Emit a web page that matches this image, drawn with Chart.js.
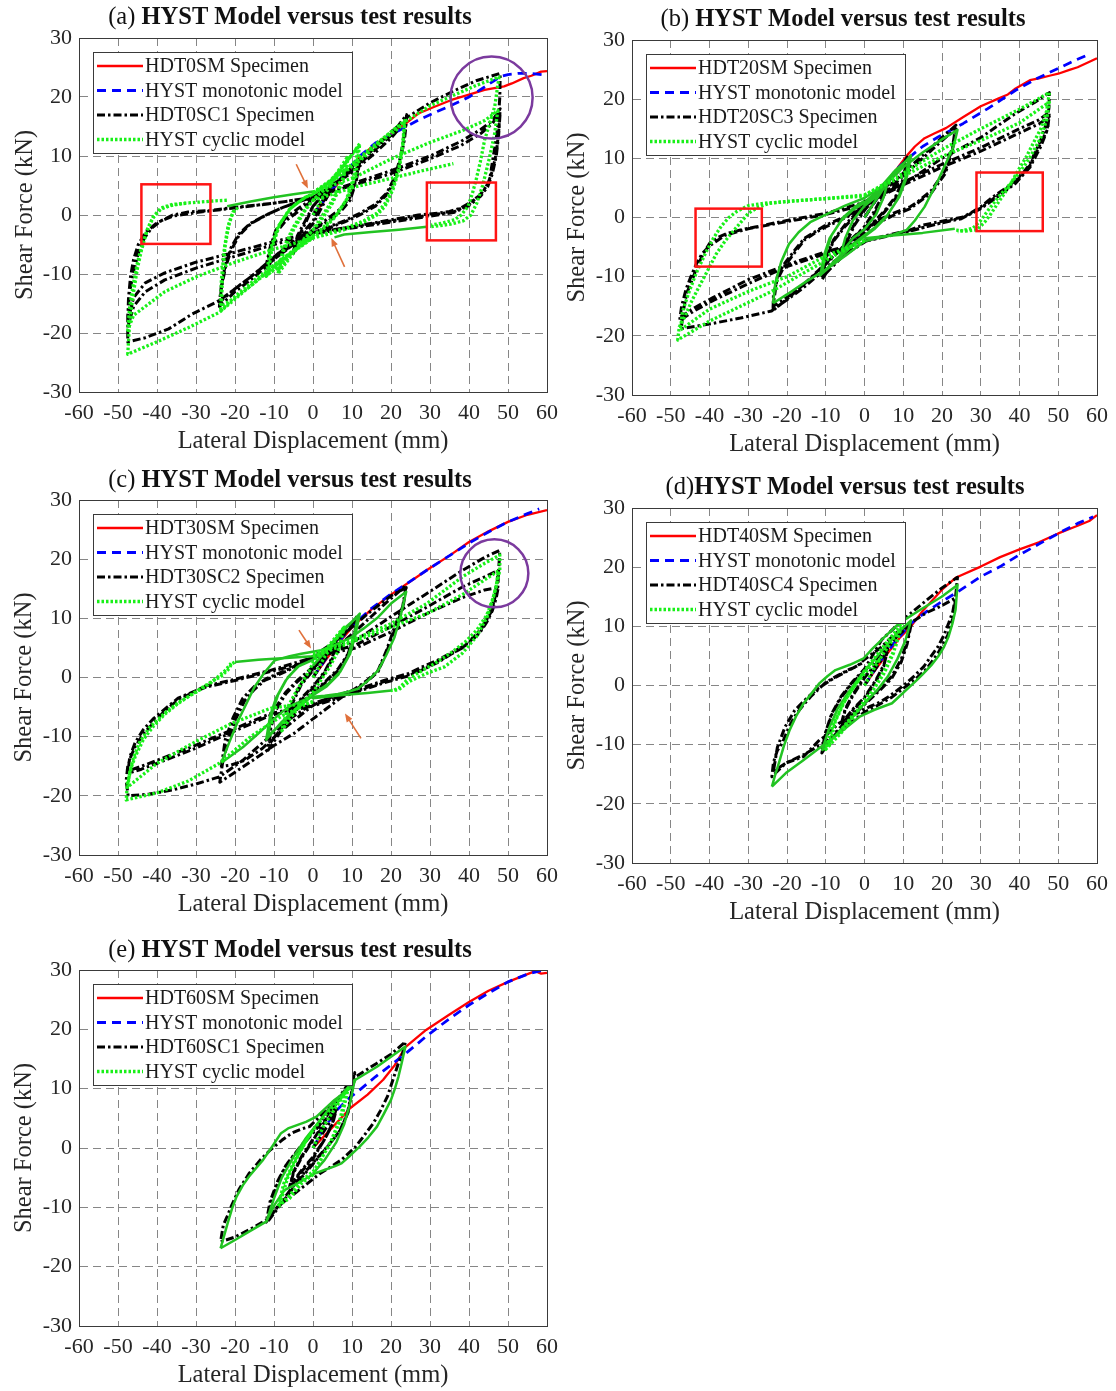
<!DOCTYPE html>
<html>
<head>
<meta charset="utf-8">
<script src="https://cdn.jsdelivr.net/npm/chart.js@4.4.1/dist/chart.umd.min.js"></script>
<style>
  body { margin: 0; background: #fff; }
  #page { position: relative; width: 1116px; height: 1391px; overflow: hidden; background: #fff; }
  #page canvas { position: absolute; }
</style>
</head>
<body>
<div id="page"></div>
<script>
// ---- axis ticks and labels ----
const xTicks = [-60, -50, -40, -30, -20, -10, 0, 10, 20, 30, 40, 50, 60];
const yTicks = [-30, -20, -10, 0, 10, 20, 30];
const panelLetters = ['(a) ', '(b) ', '(c) ', '(d)', '(e) '];
const panelTitle = 'HYST Model versus test results';
const monoLabels = ['HDT0SM Specimen', 'HDT20SM Specimen', 'HDT30SM Specimen', 'HDT40SM Specimen', 'HDT60SM Specimen'];
const cycLabels = ['HDT0SC1 Specimen', 'HDT20SC3 Specimen', 'HDT30SC2 Specimen', 'HDT40SC4 Specimen', 'HDT60SC1 Specimen'];
const modelLabels = ['HYST monotonic model', 'HYST cyclic model'];

// ---- (a) HDT0 ----  points are [displacement mm, force kN]
const aRed = [[0,0],[3,2.5],[6,5],[9,7.5],[12,9.8],[16,12],[20,13.8],[24,15.6],[27,17.2],[31,18.3],[35.5,19.5],[40,20.4],[44,21.2],[49,21.8],[51,22.3],[54,23.2],[56,23.6],[58.5,24.3],[60,24.4]];
const aBlue = [[0,0],[4,3.5],[8,7],[12,10],[16,12.2],[20,13.6],[24,15],[27,16.1],[31,17.3],[35.5,18.6],[40,20],[44,21.7],[46.5,22.8],[48.3,23.5],[50,23.8],[52.6,24],[56,24],[60,23.7]];
const aBlack = [[0,0],[2,2],[4,4],[5,5.5],[4,3.5],[2,1],[0,-1.5],[-2,-3],[-4,-4.5],[-5,-6],[-4,-4],[-2,-1.5],[0,1.5],[2,3],[4,4.5],[5,6],[4,4],[2,1.5],[0,-1],[-2,-2.5],[-4,-4.5],[-5,-6.5],
  [-4,-3.5],[-2,-1],[0,1.5],[3,3.5],[6,5.5],[9,7.5],[12,9.5],[11,6],[9.5,3],[7,1],[4,-0.5],[0,-2.5],[-4,-4],[-8,-6],[-12,-9],[-11,-6],[-9.5,-3],[-7,-1],[-4,0.5],[0,2.5],[4,4.5],[8,6.5],[12,9],[11,5.5],[9.5,2.5],[7,0.5],[4,-1],[0,-2.5],[-4,-4.5],[-8,-6.5],[-12,-8.5],[-11,-5.5],[-9.5,-2.5],[-7,-0.5],[-4,1],[0,2.8],
  [5,5],[10,7.5],[15,10.5],[20,13.5],[24,17],[23.5,14],[22.5,10],[21,6.5],[19,3.8],[16,1.8],[12,0.3],[8,-1],[4,-2],[0,-3],[-5,-5],[-10,-7.5],[-15,-10.5],[-20,-13],[-24,-15.5],[-23.5,-12.5],[-22.5,-9],[-21,-6],[-19,-3.5],[-16,-1.5],[-12,0],[-8,1.2],[-4,2.2],[0,3],[5,5],[10,7.2],[15,10],[20,13],[24,16.2],[23.5,13],[22.5,9.5],[21,6],[19,3.5],[16,1.5],[12,0],[8,-1.2],[4,-2.2],[0,-3],[-5,-5],[-10,-7.2],[-15,-10],[-20,-12.5],[-24,-14.8],[-23.5,-12],[-22.5,-8.5],[-21,-5.5],[-19,-3.2],[-16,-1.4],[-12,0],[-8,1.2],[-4,2.2],[0,3],
  [8,6.5],[16,11.5],[24,16.5],[30,19],[36,21],[42,22.8],[48,24],[47.9,20],[47.4,15],[46.9,12.7],[46,9],[45.3,6],[44,4.3],[42.3,3.1],[40,2],[38,1.2],[35,0.6],[32,0.3],[27,0],[20,-0.8],[10,-2],[0,-3],[-8,-6],[-16,-10.5],[-24,-14.5],[-31,-16.8],[-37,-19.3],[-43,-20.8],[-47.5,-21.5],
  [-47.5,-17],[-47,-13],[-46,-9.5],[-44.8,-6.5],[-43.3,-4],[-41.5,-2.3],[-39,-1],[-36,0],[-32,0.5],[-26,0.8],[-20,1.3],[-10,2],[0,3],
  [10,5.3],[20,7.5],[30,10],[38,12.5],[43,14.5],[46,16],[48,18],[47.6,14],[47,10.5],[46,7.5],[44.8,5.2],[43,3.5],[40,1.8],[36,0.5],[30,0],[20,-1],[10,-2],[0,-3],
  [-10,-4.5],[-20,-6.3],[-30,-8],[-38,-9.8],[-43,-11.5],[-46,-14],[-47.5,-18],[-47.3,-14],[-46.8,-10.5],[-46,-7.5],[-44.8,-5],[-43,-3],[-40,-1.3],[-36,-0.2],[-30,0.4],[-20,1.2],[-10,2],[0,3],
  [10,5],[20,7],[30,9.5],[38,11.8],[43,13.8],[46,15.5],[48,17.5],[47.6,13.5],[47,10],[46,7],[44.8,4.8],[43,3.2],[40,1.6],[36,0.4],[30,-0.2],[20,-1.2],[10,-2.2],[0,-3.2],
  [-10,-5],[-20,-7],[-30,-9],[-38,-11],[-43,-13],[-46,-15.5],[-47.5,-19]];
const aGreen = [
  [[0,0],[3,3.5],[6,6.5],[9,9.5],[7.5,5.5],[5,2],[2,-1],[0,-2.5],[-3,-4.5],[-6,-7],[-9,-9.5],[-7.5,-5.5],[-5,-2],[-2,1],[0,2.5],[3,4.5],[6,7],[9,10],[7.5,6],[5,2.5],[2,-0.5],[0,-2.5],[-3,-4.8],[-6,-7.3],[-9,-10],[-7.5,-6],[-5,-2.5],[-2,0.8],[0,2.5],
   [4,5],[8,8.5],[12,12.1],[11,7],[9,3],[6,0],[2,-2.5],[0,-3.5],[-4,-5.5],[-8,-8],[-12,-10.4],[-11,-6],[-9,-2],[-6,1],[-2,3],[0,3.5],[4,5.5],[8,8.5],[11.5,11.5],[10.5,6.5],[8.5,2.5],[5.5,-0.5],[2,-2.8],[0,-3.5],[-4,-5.5],[-8,-8.5],[-11.5,-10],[-10.5,-5.5],[-8.5,-1.5],[-5.5,1.3],[-2,3],[0,3.6],
   [6,6.5],[12,9.5],[18,13],[23.5,16],[23,12],[22,8],[20.5,4.8],[18.5,2],[16.4,0.3],[13,-1],[8,-2.3],[3,-3.2],[0,-3.8],[-5,-6],[-10,-8.5],[-15,-11],[-20,-13.8],[-23.7,-16.3],[-23.5,-11],[-22.7,-5.5],[-21.8,-2],[-21,-0.3],[-20,1]],
  [[0,3.8],[6,6.2],[12,9.2],[18,12.7],[23.5,15.5],[23,11.5],[22,7.5],[20.5,4.3],[18.5,1.5],[16.4,0],[13,-1.2],[8,-2.5],[3,-3.4],[0,-3.9],[-5,-6.2],[-10,-8.8],[-15,-11.5],[-20,-14],[-23.5,-15.5],[-23.2,-10.5],[-22.5,-5],[-21.5,-1.5],[-20.5,0.5],[-19,1.4]],
  [[0,3.8],[8,7.5],[16,12],[24,16],[30,18.5],[36,20.3],[42,22],[47.7,23.4],[46.6,18.4],[45.3,15.5],[44,12.7],[42.9,9],[41.8,5.9],[40.8,3.5],[39.7,1.4],[38,0],[36.3,-0.8],[33,-1.4],[30.3,-1.7]],
  [[0,-3.8],[-8,-7.5],[-16,-12],[-24,-16.5],[-32,-19.1],[-40,-21.5],[-47.5,-23.6],[-47,-18],[-46,-13],[-45,-9],[-44,-6],[-42.5,-2.5],[-41,-0.5],[-39,1],[-36.5,1.6],[-33,2],[-29,2.2],[-25,2.4],[-22,2.5]],
  [[0,3.8],[11,6.5],[20,9.5],[30,12.3],[38.3,14.3],[44,16],[47.4,17.7],[46.5,13.5],[45,9],[43.5,5],[42,2],[40.5,0],[38.5,-1],[35,-1.6],[30,-2]],
  [[0,-3.9],[-10,-5.8],[-20,-8],[-30,-10.5],[-38,-13],[-43,-15.5],[-46,-17],[-47.5,-19.5],[-47,-15.5],[-46,-11.5],[-45,-8],[-44,-5.5],[-42.5,-2.5],[-41,-0.3],[-39,1.2],[-36,1.8],[-32,2]],
  [[0,2.5],[11,4.8],[20,6.2],[28,7.5],[36,8.7]]];
const aGreenLine = [
  [[-22,1.5],[-16,2.3],[-10,3],[-5,3.5],[0,4]],
  [[29.2,-2],[22,-2.5],[15,-2.9],[8,-3.3],[5.5,-3.8]]];
const aBoxes = [[-44,-4.9,-26.3,5.2],[29.2,-4.3,46.9,5.5]];
const aCircles = [[45.8,19.9]];
const aArrows = [[-4.3,8.6,-1.3,4.5],[8.1,-8.8,4.7,-3.9]];

// ---- (b) HDT20 ----
const bRed = [[0,0],[3,3],[6,6],[9,8.8],[11,10.5],[13,12],[15.5,13.4],[18,14.2],[21,15.1],[25.5,17],[30,18.8],[34.5,20.1],[37,20.8],[39,21.8],[42.7,23.2],[45,23.5],[48,24],[50,24.3],[52.7,24.9],[55,25.4],[60,26.9]];
const bBlue = [[0,0],[4,4],[8,8],[11.8,10.3],[15,12],[19,13.6],[25.5,15.9],[31.8,18.4],[39,21.5],[44.5,23.5],[50,25.2],[54.5,26.6],[58,27.6]];
const bBlack = [[0,0],[2,2],[4,4],[6,5.5],[4.5,3],[2.5,0.5],[0,-2],[-2,-3],[-4,-4.5],[-6,-6],[-4.5,-3.5],[-2.5,-1],[0,1.5],[2,3],[4,4.5],[6,6],[4.5,3.5],[2.5,1],[0,-1.5],[-2,-3],[-4,-4.8],[-6,-6.5],[-4.5,-4],[-2.5,-1.2],[0,1.2],
  [3,3.5],[6,5.8],[9,8],[11,10.2],[10,6.5],[8,3.5],[5,1],[2,-1],[0,-2.5],[-3,-4.5],[-6,-6.5],[-9,-8.5],[-11,-10.5],[-10,-7],[-8,-4],[-5,-1.5],[-2,0.5],[0,2],[3,3.8],[6,6],[9,8.2],[11,10],[10,6.2],[8,3.2],[5,0.8],[2,-1.2],[0,-2.6],[-3,-4.6],[-6,-6.8],[-9,-8.8],[-11,-10.2],[-10,-6.8],[-8,-3.8],[-5,-1.2],[-2,0.8],[0,2.2],
  [5,4.5],[10,7.5],[15,10.5],[20,13.5],[23.6,15.6],[22.7,11.9],[20.9,8],[17.3,4.6],[14,2.8],[11.8,1.8],[7.3,0.7],[3,-0.6],[0,-1.6],[-4,-4],[-8,-6.5],[-12,-9],[-16,-11.5],[-20,-13.8],[-23.6,-15.7],
  [-23.5,-13],[-22.5,-10.5],[-20.9,-8.5],[-18.2,-6.1],[-15.5,-3.8],[-12.5,-2.5],[-10,-1.6],[-4.5,0.1],[0,1.8],[5,4],[10,7],[15,10],[20,13],[23.6,15],[22.7,11.5],[20.9,7.5],[17.3,4.2],[11.8,1.5],[7.3,0.3],[0,-2],[-4,-4.2],[-8,-6.6],[-12,-9.2],[-16,-11.5],[-20,-13.5],[-23.6,-15],[-22.5,-10],[-20.9,-8],[-18.2,-5.7],[-15.5,-3.5],[-10,-1.3],[-4.5,0.3],[0,2],
  [5,4],[12,6.5],[20,10],[30,13.5],[39,17.6],[44,19.5],[47.7,21.1],[47.6,18.5],[47,16],[45.5,13.1],[44,11],[42.7,9.1],[41,7.6],[39,6.3],[37,5.2],[34.5,4.1],[32,2.9],[30,1.8],[27.5,0.8],[25.5,0.1],[20.9,-0.5],[15,-1.3],[11.8,-2.1],[6,-3],[0.9,-3.8],
  [-8,-7.5],[-16,-12],[-24,-15.8],[-32,-17],[-40,-18],[-47.3,-18.8],[-46.8,-16],[-45.9,-12.8],[-44.5,-10.6],[-43.2,-8.3],[-41.5,-6],[-40,-4.4],[-38,-3.4],[-35.5,-2.7],[-32,-2.1],[-28.2,-1.6],[-20,-0.5],[-10,0.7],[-0.9,2.4],
  [5,4.2],[10,6],[20,9],[30,11.8],[40,15],[45,16.5],[47.7,17.8],[47.3,15],[45.5,12.6],[42.7,8.8],[39,6],[34.5,3.8],[30,1.6],[25.5,0],[20.9,-0.7],[11.8,-2.3],[0.9,-3.9],
  [-10,-6.1],[-20,-8.3],[-30,-11.2],[-39,-14],[-44,-15.8],[-47.7,-17.4],[-47.2,-15],[-46,-12],[-44.8,-10],[-43.5,-8],[-42,-6.2],[-40,-4.8],[-36,-3],[-30,-1.9],[-20,-0.7],[-10,0.5],[0,2.2],
  [10,5.5],[20,8.5],[30,11.2],[40,14.3],[45,15.8],[47.7,17],[47,14.5],[45.5,12],[42.7,8.5],[39,5.8],[34.5,3.6],[30,1.5],[25,-0.2],[20,-0.9],[10,-2.5],[0,-4],
  [-10,-5.8],[-20,-8],[-30,-10.5],[-39,-13.5],[-44,-15.3],[-47.5,-16.8]];
const bGreen = [
  [[0,3.8],[10,7.5],[20,11.5],[30,15],[40,18.3],[47.7,21.1],[47,18],[45.5,15],[43.5,12.5],[41.8,10.3],[39.5,7.8],[37.3,5.2],[35,3],[32.7,0.7],[31,-0.8],[29,-2.1],[26,-2.3],[23.3,-2.1]],
  [[0,-3.8],[-8,-6.5],[-16,-9.5],[-24,-12.5],[-32,-15],[-40,-17.5],[-48.2,-20.7],[-47.8,-18.5],[-46.4,-16.8],[-44.5,-14],[-42.7,-11.7],[-40.5,-9],[-38.2,-6.1],[-36,-4],[-33.6,-2.1],[-31.5,-0.5],[-30,0.7],[-27.3,1.8],[-24.5,2.4],[-20,2.7],[-10,3.2],[0,3.8],
   [10,7],[20,10.3],[30,13],[40,16],[47.7,19.5],[47,16.5],[45.5,13.5],[43,10.5],[41,8.5],[38,6],[35,3.8],[32,1.3],[30,-0.5],[28,-1.8],[24,-2.4]],
  [[0,-4],[-10,-6.5],[-20,-10],[-30,-12.5],[-40,-15.5],[-47.5,-19],[-47,-16],[-45.5,-13],[-43.5,-9.5],[-41,-6],[-39,-3.5],[-37,-1.5],[-35,0],[-33,1],[-30,2],[-26,2.4],[-22,2.6],[-12,3.1],[0,3.6]]];
const bGreenLine = [
  [[-23.6,-14.5],[-23,-11],[-21.5,-7.5],[-19.5,-4.5],[-17,-2.5],[-14,-0.8],[-10,0.5],[-5,2],[0,3.3],[5,5.5],[10,8.5],[15,11],[20,13.2],[24,14.8],[23,12],[21.8,10.3],[19,6.3],[15.5,1.8],[13,-0.5],[10.9,-2.1],[7,-3],[3,-3.5],[0,-4],[-5,-6.5],[-10,-8.8],[-15,-10.8],[-20,-13],[-23.6,-14.5]],
  [[23.3,-1.9],[15,-2.6],[8,-3],[0,-3.5]],
  [[0,2],[4,4.5],[8,7.5],[12,10.5],[11,7],[9,3.5],[6,0.5],[3,-1.5],[0,-3],[-4,-5],[-8,-7.5],[-11.4,-9.8],[-10.5,-6.5],[-9,-3.5],[-6,-0.5],[-3,1.3],[0,2.5],[4,5],[8,8],[11.5,10],[10.5,6.5],[8.5,3],[5.5,0],[2.5,-2],[0,-3.2],[-4,-5.3],[-8,-7.8],[-11,-9.5],[-10,-6],[-8.5,-3],[-5.5,0],[-2.5,1.8],[0,2.8]],
  [[0,0],[3,3],[6,6],[5,3.5],[3,0.5],[0,-2],[-3,-3.5],[-6,-6],[-5,-3.5],[-3,-0.5],[0,2],[3,3.5],[6,6]]];
const bBoxes = [[-43.6,-8.3,-26.5,1.5],[28.9,-2.3,46,7.6]];
const bCircles = [];
const bArrows = [];

// ---- (c) HDT30 ----
const cRed = [[0,0],[5,4.5],[10,8.5],[15,11.5],[20,14],[24,15.8],[30,18.5],[35,20.6],[40,22.9],[45,24.7],[50,26.3],[55,27.5],[60,28.3]];
const cBlue = [[0,0],[5,4.8],[10,8.7],[15,11.7],[20,14.1],[25,16.3],[30,18.5],[35,20.6],[40,22.7],[45,24.6],[50,26.3],[55,27.7],[58,28.5]];
const cBlack = [[0,0],[2,2],[4,4],[6,6],[5,3.5],[3,1],[0,-1.5],[-3,-3.5],[-6,-6],[-5,-3.5],[-3,-1],[0,1.5],[3,3.5],[6,6],[5,3.2],[3,0.8],[0,-1.8],[-3,-3.8],[-6,-6.5],[-5,-4],[-3,-1.2],[0,1.2],
  [4,4.5],[8,7.5],[11.5,10.5],[10.5,7],[9,4],[6.5,1.5],[3,-0.8],[0,-2.5],[-4,-5],[-8,-8.5],[-11.5,-11.5],[-10.8,-8],[-9.5,-5],[-7,-2.5],[-4,-0.5],[0,1.8],[4,4.3],[8,7.3],[11.5,10.2],[10.5,6.7],[9,3.8],[6.5,1.2],[3,-1],[0,-2.7],[-4,-5.3],[-8,-8.8],[-11.5,-12.3],[-10.8,-8.5],[-9.5,-5.5],[-7,-2.8],[-4,-0.7],[0,1.6],
  [6,5],[12,8.5],[18,12.2],[23.9,15.6],[23,12],[20.9,8.5],[18.8,4.5],[16.7,1.2],[14,-0.4],[11.5,-1.6],[7,-3.5],[3,-5.5],[0,-7],[-5,-9.5],[-10,-11.5],[-15,-13.8],[-20,-16],[-23.9,-17.7],
  [-23.2,-14.5],[-21.8,-10.7],[-19.8,-7],[-17.5,-3.9],[-15,-2],[-12.4,-0.5],[-9,0.4],[-6.4,1.2],[-3,2.3],[-0.4,3.4],[5,5.8],[10,8.5],[15,11.3],[20,13.8],[23.9,15.2],[23,11.6],[20.9,8],[18.8,4.2],[16.7,1],[14,-0.6],[11.5,-1.8],[7,-2.9],[3.8,-3.5],[0,-4.7],[-4,-6.8],[-9,-9.5],[-13,-12],[-17.5,-14],[-21,-14.8],[-23.5,-15],[-22.5,-10.5],[-20.5,-6.8],[-18,-3.5],[-15,-1.5],[-12,-0.2],[-6,1.5],[0,3.5],
  [11,6.3],[20,10.3],[29.2,14.2],[38.3,18.1],[44,20.3],[47.9,21.5],[47.6,18],[47.4,15.3],[46.5,13.3],[45.6,11.4],[44.3,9.6],[42.8,8],[40.5,6.4],[38.3,5.2],[35,4],[31.9,2.9],[28,1.8],[24.6,0.7],[18.2,-0.5],[11,-2.1],[5,-3.3],[0,-4.4],
  [-6,-7],[-12,-10.5],[-18,-14],[-24,-16.8],[-30,-18],[-36,-19],[-42,-19.7],[-47.4,-20],[-47.9,-17.4],[-47.5,-15],[-46.8,-13.5],[-45.6,-11.7],[-43.5,-9.5],[-41,-7.8],[-38,-5.6],[-34.6,-3.8],[-31,-2.6],[-27.3,-1.6],[-20,-0.5],[-10.9,1],[-2.7,2.4],[0,3.5],
  [11,5.5],[20,8.6],[29.2,11.9],[38.3,15.3],[44,17],[47.4,18.1],[47.2,15.5],[46.5,13],[45.6,11],[44,9.2],[42.8,7.7],[40,6],[38.3,5],[35,3.8],[31.9,2.7],[28,1.5],[24.6,0.5],[18.2,-0.7],[11,-2.3],[5,-3.6],[0,-4.6],
  [-10.9,-6.1],[-21,-8.9],[-31,-11.7],[-40,-14],[-44,-15],[-47.4,-15.8],[-47,-13.5],[-45.6,-11],[-43.5,-8.8],[-41,-7],[-37,-4.8],[-34.6,-3.5],[-30,-2.2],[-27.3,-1.4],[-20,-0.3],[-10.9,1.2],[0,3.4],
  [11,5],[20,7.7],[29.2,10.8],[38.3,13.5],[44,14.8],[47.5,15.2],[47,13.5],[46,11.3],[44.5,9.3],[42.8,7.6],[40,5.8],[36,4.2],[31.9,2.5],[28,1.3],[24.6,0.3],[18.2,-0.9],[11,-2.5],[5,-3.8],[0,-4.8],[-10.9,-6.4],[-21,-9.3],[-31,-12.2],[-40,-14.5],[-44,-15.5],[-47.4,-16.2]];
const cGreen = [
  [[0,4],[10,6.3],[20,9.1],[29.2,12.5],[38.3,17],[44,19.3],[47.9,20.7],[47.9,18.1],[46.5,14.2],[44.7,10.3],[41.9,6.9],[38.3,4.1],[33.7,1.8],[29.2,0.7],[24.6,-0.7],[21.9,-2.1],[20,-2.2]],
  [[0,-4],[-8,-6.5],[-16,-10],[-24,-14.5],[-32,-17.5],[-40,-19.5],[-47.9,-20.7],[-47.6,-18],[-46.5,-15],[-45.6,-13.4],[-43.5,-10.5],[-41,-8.3],[-38,-6.2],[-34.6,-4.4],[-31,-2.8],[-28.2,-1.6],[-25.5,-0.5],[-23.7,0.1],[-21.5,1.5],[-20.9,2.3],[-20,2.6]],
  [[0,3.5],[10,6],[20,8.5],[29.2,10.8],[38.3,14],[44,16.5],[47.5,18],[47,15.5],[46,13],[44.5,10.5],[42,8],[39,6],[35,4],[31,2.3],[27,0.8],[24,-0.5],[22,-1.8],[20.5,-2.2]],
  [[0,-4.2],[-10.9,-5.2],[-21,-7.8],[-30,-10.8],[-40,-14.5],[-47.5,-18.5],[-47,-16],[-46,-13.5],[-44.5,-11],[-42,-8.5],[-38,-6],[-34,-4],[-30,-2.5],[-26,-0.8],[-22.5,1.2],[-21,2.4]],
  [[0,0],[3,3.5],[6,6.5],[8,8.5],[6.5,4.5],[4,1.5],[1,-1.5],[0,-2.5],[-3,-4.5],[-6,-7],[-8,-9],[-6.5,-5],[-4,-2],[-1,1],[0,2.5],[3,4.5],[6,7],[8,8.5]]];
const cGreenLine = [
  [[-23.5,-14.4],[-21.5,-11],[-19.2,-7.3],[-17,-4.3],[-15,-1.6],[-12.5,0.8],[-9.8,2.9],[-6,3.6],[-3,4],[2.1,4.6],[6,5.6],[9.8,6.8],[13,8.3],[16.7,10.2],[20,12.5],[23.9,14.5],[22.5,10.5],[20.9,6.8],[18.8,3.8],[16.7,1.2],[14,-0.6],[11.5,-1.9],[9,-2.4],[6.4,-2.8],[3,-3.1],[-0.4,-3.3],[-3,-4],[-6.4,-5],[-10,-7],[-14.1,-9.5],[-18,-11.8],[-23.5,-14.4]],
  [[-20,2.6],[-14,3],[-7,3.3],[0,3.6],[1.3,4]],
  [[20.1,-2.2],[14,-2.6],[7,-3],[0,-3.5],[-0.4,-3.3]],
  [[0,2],[4,5],[8,8],[12,10.8],[11,7.5],[9.5,4],[7,1],[4,-1],[0,-2.8],[-4,-5],[-8,-7.5],[-12,-10.5],[-11,-6.5],[-9.5,-3.5],[-7,-0.5],[-4,1.8],[0,3],[4,5.2],[8,8.3],[11.5,10.3],[10.5,7],[9,3.5],[6.5,0.5],[3.5,-1.5],[0,-3],[-4,-5.2],[-8,-7.8],[-11.5,-9.8],[-10.5,-6],[-9,-3],[-6.5,0],[-3.5,2],[0,3]]];
const cBoxes = [];
const cCircles = [[46.5,17.6]];
const cArrows = [[-3.6,8,-0.5,4.9],[12.3,-10.3,8.2,-6.1]];

// ---- (d) HDT40 ----
const dRed = [[0,0],[3,2.8],[6,5.5],[9,8],[12,10],[15,12.6],[20,16.2],[23.5,18.2],[30,20.1],[35,21.7],[40,23],[45,24.2],[50,25.7],[55,27],[58,27.8],[60,28.8]];
const dBlue = [[0,0],[4,4],[8,7.5],[12,10.5],[16,12.5],[20,14.2],[24,15.8],[30,18.4],[35,20.1],[40,22.1],[45,23.9],[50,25.7],[55,27.4],[59,28.5]];
const dBlack = [[0,0],[2,2],[4,4],[6,6],[5,3.5],[3,1],[0,-2],[-3,-4],[-6,-6.5],[-5,-4],[-3,-1.5],[0,1.5],[3,3.5],[6,6.2],[5,3.3],[3,0.8],[0,-2.2],[-3,-4.2],[-6,-6.8],[-5,-4.2],[-3,-1.7],[0,1.3],
  [4,4.5],[8,8],[12,10.6],[11,7.5],[9.5,4.5],[7,1.5],[4,-0.5],[0,-3],[-4,-5.5],[-8,-8.3],[-11,-11.4],[-10,-8],[-8.5,-5],[-6,-2],[-3,0.5],[0,2.5],[4,5],[8,8.2],[12,10.2],[11,7],[9.5,4],[7,1.2],[4,-0.8],[0,-3.2],[-4,-5.8],[-8,-8.6],[-11,-11],[-10,-7.8],[-8.5,-4.8],[-6,-1.8],[-3,0.7],[0,2.8],
  [2,5],[4.4,7.7],[9.9,11.1],[16.2,14.5],[20,16.5],[24,18.3],[23.5,15],[22.8,12.5],[21.7,10.5],[20.5,8.5],[19,6.6],[17,4.8],[15.3,3.2],[13,1.7],[10.8,0.4],[8.5,-0.8],[6.2,-1.9],[4,-2.8],[1.6,-3.5],[-2,-4.7],[-6.6,-6.4],[-10.2,-8.6],[-11.6,-9.2],[-15.7,-12],[-20.3,-13.1],[-23.9,-15.4],
  [-23.5,-13],[-22.5,-11],[-21.2,-9.7],[-19.5,-7],[-17.5,-4.7],[-15.5,-3.1],[-13.9,-1.9],[-12,-0.7],[-10.2,0.4],[-8.5,1.1],[-6.6,1.8],[-4,2.7],[-2,3.2],[-0.2,4.3],
  [4,6.3],[8,8.8],[11.7,10.5],[16,12.3],[20,13.5],[23.5,14.8],[23,11.8],[21.5,8.5],[19,5.5],[16,2.8],[13,1],[10,-0.5],[7,-2],[3,-3.5],[0,-4.5],[-5,-7],[-10,-9.5],[-15.7,-11.7],[-20,-13],[-23.5,-14.5],[-22.5,-10.5],[-20.5,-7],[-18,-4.2],[-15,-2.2],[-12,-0.5],[-8,1.2],[-4,2.6],[0,4]];
const dGreen = [
  [[0,0],[3,3.5],[6,6.5],[9,9.5],[7.5,5.5],[5,2],[2,-1],[0,-3],[-3,-5],[-6,-7.5],[-9,-10],[-7.5,-6],[-5,-2.5],[-2,0.5],[0,2.5],[3,5],[6,7.5],[9,10],[10,11],[8,6.5],[5.5,3],[2.5,-0.5],[0,-2.5],[-3,-5.5],[-6,-8],[-10,-10.8],[-8,-6.5],[-5.5,-3],[-2.5,0],[0,2],[2,3.5],[4,4.5]]];
const dGreenLine = [
  [[-23.9,-17.1],[-23,-15],[-22.1,-13.1],[-20.8,-10.2],[-19.3,-7.5],[-17.5,-5],[-15.7,-3],[-13.5,-1.2],[-11.6,0.4],[-9.5,1.6],[-7.5,2.6],[-3.8,3.5],[-0.2,4.6],[2,6.2],[4.4,7.7],[8.9,10.5],[14.4,12.8],[19.9,15],[24,17],[23.5,12.8],[22.7,10.5],[21.7,8.3],[20.5,6.5],[19,4.9],[17.2,3.4],[15.3,2.1],[13.5,0.9],[11.7,-0.2],[8.9,-1.9],[7.1,-3],[2.6,-4.1],[-1.1,-5.2],[-6.6,-8.1],[-11.1,-10.3],[-15.7,-12.6],[-20.3,-14.8],[-23.9,-17.1]],
  [[-11,-11],[-9,-7],[-7,-4],[-4,-1],[0,2.5],[4,5.5],[8,8.5],[12,11],[10.5,7.5],[8.5,4.5],[6,1.5],[3,-1],[0,-3],[-4,-6],[-8,-8.8],[-11,-11]]];
const dBoxes = [];
const dCircles = [];
const dArrows = [];

// ---- (e) HDT60 ----
const eRed = [[0,0],[4,2.8],[8,5.6],[9.5,6.7],[14,9],[18,11.5],[21,14],[23.7,17],[29,19.9],[35,22.5],[40,24.6],[45,26.5],[50,28],[55,29.3],[57,29.8],[58.5,29.4],[60,29.5]];
const eBlue = [[0,0],[3,3.5],[6,6.3],[9,8.3],[12,9.8],[16,12],[20,14],[23,15.5],[29,18.8],[35,21.8],[40,24.1],[45,26.1],[50,28],[55,29.3],[59,30]];
const eBlack = [[0,0],[2,2],[4,4],[6,6.5],[5,4],[3,1.5],[0,-1.5],[-3,-3.8],[-6,-6.5],[-5,-4],[-3,-1.5],[0,1.5],[3,3.8],[6,6.8],[5,4.2],[3,1.5],[0,-1.8],[-3,-4],[-6,-6.8],[-5,-4.2],[-3,-1.7],[0,1.3],
  [4,5.5],[8,9.5],[10.7,12.7],[10,9.5],[9,6],[7,3],[4,0.5],[0,-2.5],[-4,-5.5],[-8,-9],[-12,-12.5],[-11,-9],[-9,-5.5],[-7,-3],[-4,-0.5],[0,2.5],[4,5.8],[8,9.8],[10.5,12.3],[9.8,9],[8.8,5.8],[6.8,2.8],[3.8,0.3],[0,-2.7],[-4,-5.8],[-8,-9.3],[-11.5,-12.3],[-10.5,-8.5],[-8.5,-5],[-6.5,-2.5],[-3.5,0],[0,2.8],
  [4,6.5],[7.3,8.7],[10.9,12],[16.4,14.3],[20,15.8],[23.7,17.9],[23,16],[21.9,14.3],[20.5,11.5],[19.1,8.7],[17.3,6.3],[15.5,4.2],[13,2],[10.9,0.2],[7.3,-2],[4.5,-3.2],[1.8,-4.3],[-3.6,-7.1],[-9.1,-9.9],[-11.9,-12.1],[-16.4,-13.8],[-20,-15],[-23.7,-15.8],
  [-23,-13],[-22,-11.5],[-21,-9.9],[-19,-7],[-16.4,-4.3],[-13.5,-2],[-10.9,-0.3],[-8,1.3],[-5.5,2.5],[-3,3.2],[-0.9,3.6],[2,5.5],[5,7.5]];
const eGreen = [
  [[0,0],[3,4],[6,7],[9,10],[7.5,5.5],[5,1.5],[2,-2],[0,-4],[-3,-5.5],[-6,-8],[-9,-10],[-7.5,-6],[-5,-2.5],[-2,1],[0,3],[3,5.5],[6,7.5],[8.5,9.5],[7,5],[4.5,1],[1.5,-2.5],[0,-4.5],[-3,-6],[-6,-8.5],[-8.5,-9.5],[-6.5,-5],[-4,-1.5],[-1.5,1.5],[0,3]]];
const eGreenLine = [
  [[-23.7,-16.9],[-22.8,-14.8],[-21.9,-12.7],[-20.8,-10.3],[-19.6,-8.2],[-18,-6.3],[-16.4,-4.8],[-14.5,-3.3],[-12.8,-2],[-10.5,0.2],[-8.2,2.5],[-6.4,3.3],[-1.8,4.4],[0.9,5.3],[5.5,8.1],[10,10.3],[10.9,11.5],[16.4,13.7],[23.7,17.1],[22.8,14.5],[21.9,12],[21,10],[20,8.1],[18.2,5.8],[16.4,3.6],[14.2,1.8],[11.9,0.2],[9.5,-1.3],[7.3,-2.6],[5.5,-3.1],[0.4,-4.3],[-3.5,-5.8],[-7.3,-7.1],[-9.8,-9.5],[-12,-12.4],[-16.4,-14.1],[-20,-15.5],[-23.7,-16.9]],
  [[-12,-12.5],[-10,-8.5],[-8,-5],[-5,-1.5],[-2,1.5],[1,4],[4,6.5],[7,8.8],[10.7,11.5],[9.5,7.5],[8,4],[6,1],[3,-2],[0,-4.3]]];
const eBoxes = [];
const eCircles = [];
const eArrows = [];

// ---- page layout (pixels) ----
const frames = [
  { left: 0,   top: 0,   w: 566, h: 460, area: { l: 79, t: 38, r: 549, b: 392 }, yPad: 10.6, titleY: 18, titleCx: 290 },
  { left: 556, top: 0,   w: 560, h: 463, area: { l: 76, t: 40, r: 545, b: 395 }, yPad: 6.6,  titleY: 20, titleCx: 287 },
  { left: 0,   top: 460, w: 566, h: 463, area: { l: 79, t: 40, r: 549, b: 395 }, yPad: 9.6,  titleY: 21, titleCx: 290 },
  { left: 556, top: 468, w: 560, h: 463, area: { l: 76, t: 40, r: 545, b: 395 }, yPad: 6.6,  titleY: 20, titleCx: 289 },
  { left: 0,   top: 930, w: 566, h: 464, area: { l: 79, t: 40, r: 549, b: 396 }, yPad: 9.6,  titleY: 21, titleCx: 290 }
];

const styles = {
  mono:      { color: '#ff0000', width: 2.3, dash: [] },
  model:     { color: '#0000ff', width: 2.8, dash: [9, 6] },
  cyc:       { color: '#000000', width: 3,   dash: [8, 3, 2.5, 3] },
  cycModel:  { color: '#18f018', width: 3.3, dash: [2.5, 2] },
  cycLine:   { color: '#22c322', width: 2.5, dash: [] }
};

const panels = [
  { red: aRed, blue: aBlue, black: aBlack, green: aGreen, greenLine: aGreenLine, boxes: aBoxes, circles: aCircles, arrows: aArrows },
  { red: bRed, blue: bBlue, black: bBlack, green: bGreen, greenLine: bGreenLine, boxes: bBoxes, circles: bCircles, arrows: bArrows },
  { red: cRed, blue: cBlue, black: cBlack, green: cGreen, greenLine: cGreenLine, boxes: cBoxes, circles: cCircles, arrows: cArrows },
  { red: dRed, blue: dBlue, black: dBlack, green: dGreen, greenLine: dGreenLine, boxes: dBoxes, circles: dCircles, arrows: dArrows },
  { red: eRed, blue: eBlue, black: eBlack, green: eGreen, greenLine: eGreenLine, boxes: eBoxes, circles: eCircles, arrows: eArrows }
];

const FONT = '"Liberation Serif", "Times New Roman", serif';
Chart.defaults.font.family = FONT;
Chart.defaults.animation = false;

function toSegs(arr) {
  if (!arr.length) return [];
  return Array.isArray(arr[0][0]) ? arr : [arr];
}

function drawArrow(ctx, x1, y1, x2, y2) {
  const ang = Math.atan2(y2 - y1, x2 - x1), hl = 9;
  ctx.beginPath();
  ctx.moveTo(x1, y1);
  ctx.lineTo(x2 - hl * 0.7 * Math.cos(ang), y2 - hl * 0.7 * Math.sin(ang));
  ctx.stroke();
  ctx.beginPath();
  ctx.moveTo(x2, y2);
  ctx.lineTo(x2 - hl * Math.cos(ang - 0.38), y2 - hl * Math.sin(ang - 0.38));
  ctx.lineTo(x2 - hl * Math.cos(ang + 0.38), y2 - hl * Math.sin(ang + 0.38));
  ctx.closePath();
  ctx.fill();
}

function makeChart(i) {
  const F = frames[i], P = panels[i];
  const cv = document.createElement('canvas');
  cv.width = F.w; cv.height = F.h;
  cv.style.left = F.left + 'px'; cv.style.top = F.top + 'px';
  cv.style.width = F.w + 'px'; cv.style.height = F.h + 'px';
  document.getElementById('page').appendChild(cv);

  const series = [
    { label: monoLabels[i],  segs: toSegs(P.red),       st: styles.mono,     order: 5 },
    { label: modelLabels[0], segs: toSegs(P.blue),      st: styles.model,    order: 4 },
    { label: cycLabels[i],   segs: toSegs(P.black),     st: styles.cyc,      order: 3 },
    { label: modelLabels[1], segs: toSegs(P.green),     st: styles.cycModel, order: 1 },
    { label: modelLabels[1], segs: toSegs(P.greenLine), st: styles.cycLine,  order: 2, noLegend: true }
  ];

  const datasets = [];
  series.forEach(s => {
    s.segs.forEach(seg => {
      datasets.push({
        label: s.label,
        data: seg.map(p => ({ x: p[0], y: p[1] })),
        showLine: true,
        pointRadius: 0,
        borderColor: s.st.color,
        backgroundColor: s.st.color,
        borderWidth: s.st.width,
        borderDash: s.st.dash,
        borderCapStyle: 'butt',
        borderJoinStyle: 'round',
        tension: 0,
        fill: false,
        order: s.order
      });
    });
  });

  const decor = {
    id: 'decor' + i,
    afterDatasetsDraw(chart) {
      const { ctx, scales: { x, y } } = chart;
      ctx.save();
      ctx.setLineDash([]);
      ctx.strokeStyle = '#ff1414';
      ctx.lineWidth = 2.5;
      P.boxes.forEach(b => {
        const x1 = x.getPixelForValue(b[0]), y1 = y.getPixelForValue(b[1]);
        const x2 = x.getPixelForValue(b[2]), y2 = y.getPixelForValue(b[3]);
        ctx.strokeRect(Math.min(x1, x2), Math.min(y1, y2), Math.abs(x2 - x1), Math.abs(y2 - y1));
      });
      ctx.strokeStyle = '#7b3a9e';
      P.circles.forEach(c => {
        ctx.beginPath();
        ctx.arc(x.getPixelForValue(c[0]), y.getPixelForValue(c[1]), i === 0 ? 41 : 34, 0, Math.PI * 2);
        ctx.stroke();
      });
      ctx.strokeStyle = '#e0703a';
      ctx.fillStyle = '#e0703a';
      ctx.lineWidth = 1.6;
      P.arrows.forEach(a => {
        drawArrow(ctx, x.getPixelForValue(a[0]), y.getPixelForValue(a[1]), x.getPixelForValue(a[2]), y.getPixelForValue(a[3]));
      });
      ctx.restore();
    },
    afterDraw(chart) {
      const { ctx, chartArea: a } = chart;
      ctx.save();
      // axes box
      ctx.setLineDash([]);
      ctx.strokeStyle = '#3a3a3a';
      ctx.lineWidth = 1;
      ctx.strokeRect(Math.round(a.left) + 0.5, Math.round(a.top) + 0.5, Math.round(a.right - a.left), Math.round(a.bottom - a.top));
      // legend
      const lx = Math.round(a.left) + 14, ly = Math.round(a.top) + 14, lw = 259, lh = 101;
      ctx.fillStyle = '#fff';
      ctx.fillRect(lx, ly, lw, lh);
      ctx.strokeStyle = '#3a3a3a';
      ctx.strokeRect(lx + 0.5, ly + 0.5, lw, lh);
      series.filter(s => !s.noLegend).forEach((s, k) => {
        const cy = ly + 14 + k * 24.5;
        ctx.beginPath();
        ctx.setLineDash(s.st.dash);
        ctx.strokeStyle = s.st.color;
        ctx.lineWidth = s.st.width;
        ctx.moveTo(lx + 4, cy);
        ctx.lineTo(lx + 50, cy);
        ctx.stroke();
        ctx.setLineDash([]);
        ctx.fillStyle = '#1a1a1a';
        ctx.font = '20px ' + FONT;
        ctx.textBaseline = 'middle';
        ctx.textAlign = 'left';
        ctx.fillText(s.label, lx + 52, cy + 1);
      });
      // title: plain letter + bold text
      ctx.fillStyle = '#111';
      ctx.textBaseline = 'middle';
      ctx.textAlign = 'left';
      ctx.font = '24.5px ' + FONT;
      const w1 = ctx.measureText(panelLetters[i]).width;
      ctx.font = 'bold 24.5px ' + FONT;
      const w2 = ctx.measureText(panelTitle).width;
      const sx = F.titleCx - (w1 + w2) / 2;
      ctx.font = '24.5px ' + FONT;
      ctx.fillText(panelLetters[i], sx, F.titleY);
      ctx.font = 'bold 24.5px ' + FONT;
      ctx.fillText(panelTitle, sx + w1, F.titleY);
      ctx.restore();
    }
  };

  const tickFont = { family: FONT, size: 22 };
  const titleFont = { family: FONT, size: 24.5 };

  new Chart(cv, {
    type: 'scatter',
    data: { datasets },
    options: {
      responsive: false,
      animation: false,
      layout: { padding: { left: 0, top: F.area.t, right: F.w - F.area.r, bottom: 0 } },
      plugins: { legend: { display: false }, tooltip: { enabled: false }, title: { display: false } },
      scales: {
        x: {
          type: 'linear', min: -60, max: 60,
          afterBuildTicks: s => { s.ticks = xTicks.map(v => ({ value: v })); },
          afterFit: s => { s.height = F.h - F.area.b; },
          ticks: { color: '#262626', font: tickFont, padding: 8, maxRotation: 0, autoSkip: false },
          grid: { color: '#868686', lineWidth: 1, drawTicks: false },
          border: { display: true, color: '#3a3a3a', width: 1, dash: [8, 5] },
          title: { display: true, text: 'Lateral Displacement (mm)', color: '#262626', font: titleFont, padding: { top: 0, bottom: 4 } }
        },
        y: {
          type: 'linear', min: -30, max: 30,
          afterBuildTicks: s => { s.ticks = yTicks.map(v => ({ value: v })); },
          afterFit: s => { s.width = F.area.l; },
          ticks: { color: '#262626', font: tickFont, padding: 7, autoSkip: false },
          grid: { color: '#868686', lineWidth: 1, drawTicks: false },
          border: { display: true, color: '#3a3a3a', width: 1, dash: [8, 5] },
          title: { display: true, text: 'Shear Force (kN)', color: '#262626', font: titleFont, padding: { top: F.yPad, bottom: 0 } }
        }
      }
    },
    plugins: [decor]
  });
}

panels.forEach((p, i) => makeChart(i));
</script>
</body>
</html>
